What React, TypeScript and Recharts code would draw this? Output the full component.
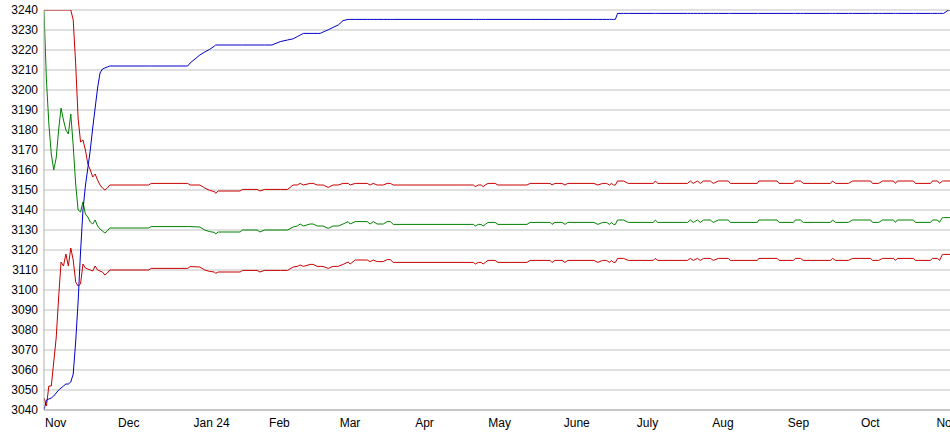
import React from 'react';
import { LineChart, Line, XAxis, YAxis, CartesianGrid } from 'recharts';

// days since Nov 1
const days = [
  0, 1, 2, 3, 4, 5, 6, 7, 8, 9, 10, 11, 12, 13, 14, 15, 16, 17, 18, 19, 20, 21, 22, 23, 24, 25, 26, 27,
  43, 44, 59, 60, 64, 66, 68, 70, 70.5, 71.5, 80.5, 81.5, 87.5, 88.7, 90.5, 93.6, 97, 100,
  102.3, 104, 105.2, 106.5, 109.3, 110.5, 112.2, 113.4, 114.6, 116.7, 118.7, 120.8, 122.8, 124.9, 125.7, 127.8, 132.7, 133.9, 135.2, 136.8, 139.3, 140.9, 142.2, 143.4,
  176.3, 177.1, 178.3, 179.5, 180.3, 181.2, 182.3, 185.2, 186.4, 198.3, 199.6, 207.8, 208.6, 209.8, 212.7, 213.9, 215.1, 225.8, 227.4, 229.4, 231, 232.2, 233, 233.8, 234.6,
  235.5, 238, 239.9, 250.2, 251, 252, 264.2, 265.4, 266.6, 268.3, 269.5, 270.8, 273.6, 274.8, 276.9, 281, 281.8, 292.9, 293.5, 301, 301.8, 307.7, 308.5, 310.6, 311.8,
  322.9, 323.8, 325, 330.3, 332, 339.4, 340.2, 342.7, 344.3, 348.8, 349.6, 350.4, 357, 357.8, 364, 364.8, 366.9, 367.7, 368.9, 369.4, 371.4, 372,
];

const blueValues = [
  3040, 3045, 3045.5, 3046, 3047, 3048.5, 3050, 3051, 3052, 3053, 3053, 3054, 3058, 3074, 3094, 3119, 3140, 3152, 3161, 3170, 3181, 3191, 3201, 3208.5, 3210.5, 3211, 3211.5, 3212,
  3212, 3212, 3212, 3213.5, 3217.5, 3219, 3220.3, 3222, 3222.5, 3222.5, 3222.5, 3222.5, 3222.5, 3222.5, 3222.5, 3222.5, 3224.2, 3225,
  3225.6, 3226.7, 3227.5, 3228.3, 3228.3, 3228.3, 3228.3, 3228.3, 3229, 3230.1, 3231.3, 3232.5, 3234.7, 3235.3, 3235.3, 3235.3, 3235.3, 3235.3, 3235.3, 3235.3, 3235.3, 3235.3, 3235.3, 3235.3,
  3235.3, 3235.3, 3235.3, 3235.3, 3235.3, 3235.3, 3235.3, 3235.3, 3235.3, 3235.3, 3235.3, 3235.3, 3235.3, 3235.3, 3235.3, 3235.3, 3235.3, 3235.3, 3235.3, 3235.3, 3235.3, 3235.3, 3235.3, 3235.3, 3235.3,
  3238.3, 3238.3, 3238.3, 3238.3, 3238.3, 3238.3, 3238.3, 3238.3, 3238.3, 3238.3, 3238.3, 3238.3, 3238.3, 3238.3, 3238.3, 3238.3, 3238.3, 3238.3, 3238.3, 3238.3, 3238.3, 3238.3, 3238.3, 3238.3, 3238.3,
  3238.3, 3238.3, 3238.3, 3238.3, 3238.3, 3238.3, 3238.3, 3238.3, 3238.3, 3238.3, 3238.3, 3238.3, 3238.3, 3238.3, 3238.3, 3238.3, 3238.3, 3238.3, 3238.3, 3238.3, 3240, 3240,
];

const upperRedValues = [
  3240, 3240, 3240, 3240, 3240, 3240, 3240, 3240, 3240, 3240, 3240, 3240, 3235, 3213, 3186, 3174, 3175, 3170, 3163, 3160, 3156.5, 3158, 3155, 3152.5, 3151, 3150, 3151, 3152.5,
  3152.5, 3153.3, 3153.3, 3152.5, 3152.5, 3151, 3149.8, 3149.2, 3148.3, 3149.5, 3149.5, 3150.3, 3150.3, 3149.5, 3150.3, 3150.3, 3150.3, 3150.3,
  3152.5, 3152.5, 3153.3, 3152.5, 3153.3, 3153.3, 3152.5, 3152.5, 3152.5, 3151.3, 3152.5, 3152.5, 3153.3, 3153.3, 3152.5, 3153.3, 3153.3, 3152.5, 3153.3, 3152.5, 3152.5, 3153.3, 3153.3, 3152.5,
  3152.5, 3151.7, 3152.5, 3152.5, 3151.7, 3152.5, 3153.3, 3153.3, 3152.5, 3152.5, 3153.3, 3153.3, 3152.5, 3153.3, 3153.3, 3152.5, 3153.3, 3153.3, 3152.5, 3153.3, 3153.3, 3152.5, 3153.3, 3152.5, 3152.5,
  3154.5, 3154.5, 3153.3, 3153.3, 3154.5, 3153.3, 3153.3, 3154.5, 3153.3, 3154.5, 3153.3, 3154.5, 3154.5, 3153.3, 3154.5, 3154.5, 3153.3, 3153.3, 3154.5, 3154.5, 3153.3, 3153.3, 3154.5, 3154.5, 3153.3,
  3153.3, 3154.5, 3153.3, 3153.3, 3154.5, 3154.5, 3153.3, 3153.3, 3154.5, 3154.5, 3153.3, 3154.5, 3154.5, 3153.3, 3153.3, 3154.5, 3154.5, 3153.3, 3154.5, 3154.5, 3154.5, 3154.5,
];

const greenValues = [
  3240, 3205, 3183, 3168, 3160, 3166, 3180, 3191, 3185, 3180, 3178, 3188, 3172, 3153, 3140, 3139, 3144, 3138, 3136.5, 3134, 3133, 3135, 3132, 3130.5, 3129.5, 3128.5, 3129.5, 3131,
  3131, 3131.7, 3131.7, 3131.7, 3131.5, 3130, 3129.2, 3128.8, 3128, 3129, 3129, 3130, 3130, 3129, 3130, 3130, 3130, 3130,
  3131.5, 3132, 3133, 3132, 3133, 3133, 3132, 3132, 3132, 3130.8, 3132, 3132, 3133, 3134.2, 3133, 3134.2, 3134.2, 3133, 3134.2, 3133, 3133, 3134.2, 3134.2, 3132.8,
  3132.8, 3132, 3132.8, 3132.8, 3132, 3132.8, 3133.8, 3133.8, 3132.8, 3132.8, 3133.8, 3133.8, 3132.8, 3133.8, 3133.8, 3132.8, 3133.8, 3133.8, 3132.8, 3133.8, 3133.8, 3132.8, 3133.8, 3132.8, 3132.8,
  3135, 3135, 3133.8, 3133.8, 3135, 3133.8, 3133.8, 3135, 3133.8, 3135, 3133.8, 3135, 3135, 3133.8, 3135, 3135, 3133.8, 3133.8, 3135, 3135, 3133.8, 3133.8, 3135, 3135, 3133.8,
  3133.8, 3135, 3133.8, 3133.8, 3135, 3135, 3133.8, 3133.8, 3135, 3135, 3133.8, 3135, 3135, 3133.8, 3133.8, 3135, 3135, 3133.8, 3136.2, 3136.2, 3136.2, 3136.2,
];

const lowerRedValues = [
  3046, 3042, 3052, 3052, 3064, 3076, 3096, 3114, 3112, 3118, 3112, 3121, 3115, 3104, 3102, 3103, 3113, 3111, 3110.5, 3110, 3109.5, 3112, 3110, 3109.5, 3109, 3107.5, 3108.5, 3110,
  3110, 3110.8, 3110.8, 3111.7, 3111.5, 3110, 3109.3, 3109, 3108.3, 3109, 3109, 3109.8, 3109.8, 3109, 3109.8, 3109.8, 3109.8, 3109.8,
  3111.5, 3111.8, 3112.5, 3111.8, 3112.8, 3112.8, 3111.8, 3111.8, 3111.8, 3110.8, 3111.8, 3111.8, 3112.8, 3114, 3113, 3115, 3115, 3114.2, 3115, 3114.2, 3114.2, 3115.2, 3115.2, 3113.8,
  3113.8, 3113, 3113.8, 3113.8, 3113, 3113.8, 3114.8, 3114.8, 3113.8, 3113.8, 3114.8, 3114.8, 3113.8, 3114.8, 3114.8, 3113.8, 3114.8, 3114.8, 3113.8, 3114.8, 3114.8, 3113.8, 3114.8, 3113.8, 3113.8,
  3115.8, 3115.8, 3114.8, 3114.8, 3115.8, 3114.8, 3114.8, 3115.8, 3114.8, 3115.8, 3114.8, 3115.8, 3115.8, 3114.8, 3115.8, 3115.8, 3114.8, 3114.8, 3115.8, 3115.8, 3114.8, 3114.8, 3115.8, 3115.8, 3114.8,
  3114.8, 3115.8, 3114.8, 3114.8, 3115.8, 3115.8, 3114.8, 3114.8, 3115.8, 3115.8, 3114.8, 3115.8, 3115.8, 3114.8, 3114.8, 3115.8, 3115.8, 3114.8, 3117.8, 3117.8, 3117.8, 3117.8,
];

const monthTicks = [0, 30, 61, 92, 121, 152, 182, 213, 243, 274, 305, 335, 366];
const monthLabels = ['Nov', 'Dec', 'Jan 24', 'Feb', 'Mar', 'Apr', 'May', 'June', 'July', 'Aug', 'Sep', 'Oct', 'Nov'];
const yTicks = [3040, 3050, 3060, 3070, 3080, 3090, 3100, 3110, 3120, 3130, 3140, 3150, 3160, 3170, 3180, 3190, 3200, 3210, 3220, 3230, 3240];

const chartData = days.map((day, i) => ({
  day,
  blue: blueValues[i],
  upperRed: upperRedValues[i],
  green: greenValues[i],
  lowerRed: lowerRedValues[i],
}));

const FONT = '"Liberation Sans", Arial, sans-serif';

const MonthTick = (props: any) => {
  const { x, y, payload } = props;
  const idx = monthTicks.indexOf(payload.value);
  return (
    <text x={x + 1} y={y} dy="0.71em" textAnchor="start" fill="#000" fontSize={12} fontFamily={FONT}>
      {monthLabels[idx]}
    </text>
  );
};

const App: React.FC = () => {
  return (
    <div style={{ position: 'absolute', left: 0, top: 0, width: 950, height: 435, overflow: 'hidden', background: '#fff' }}>
      <LineChart width={950} height={435} data={chartData} margin={{ top: 10, right: 0, left: 0, bottom: 0 }}>
        <CartesianGrid vertical={false} stroke="#c0c0c0" />
        <XAxis
          dataKey="day"
          type="number"
          domain={[0, 372]}
          ticks={monthTicks}
          interval={0}
          tick={<MonthTick />}
          tickLine={false}
          axisLine={{ stroke: '#b0b0b0' }}
          height={25}
          allowDataOverflow
        />
        <YAxis
          type="number"
          domain={[3040, 3240]}
          ticks={yTicks}
          interval={0}
          width={44}
          tickSize={4}
          tickLine={false}
          axisLine={{ stroke: '#b0b0b0' }}
          tick={{ fill: '#000', fontSize: 12, fontFamily: FONT }}
          allowDataOverflow
        />
        <Line type="linear" dataKey="green" stroke="#008000" strokeWidth={1} dot={false} isAnimationActive={false} />
        <Line type="linear" dataKey="lowerRed" stroke="#c80000" strokeWidth={1} dot={false} isAnimationActive={false} />
        <Line type="linear" dataKey="upperRed" stroke="#c80000" strokeWidth={1} dot={false} isAnimationActive={false} />
        <Line type="linear" dataKey="blue" stroke="#0000c8" strokeWidth={1} dot={false} isAnimationActive={false} />
      </LineChart>
    </div>
  );
};

export default App;
